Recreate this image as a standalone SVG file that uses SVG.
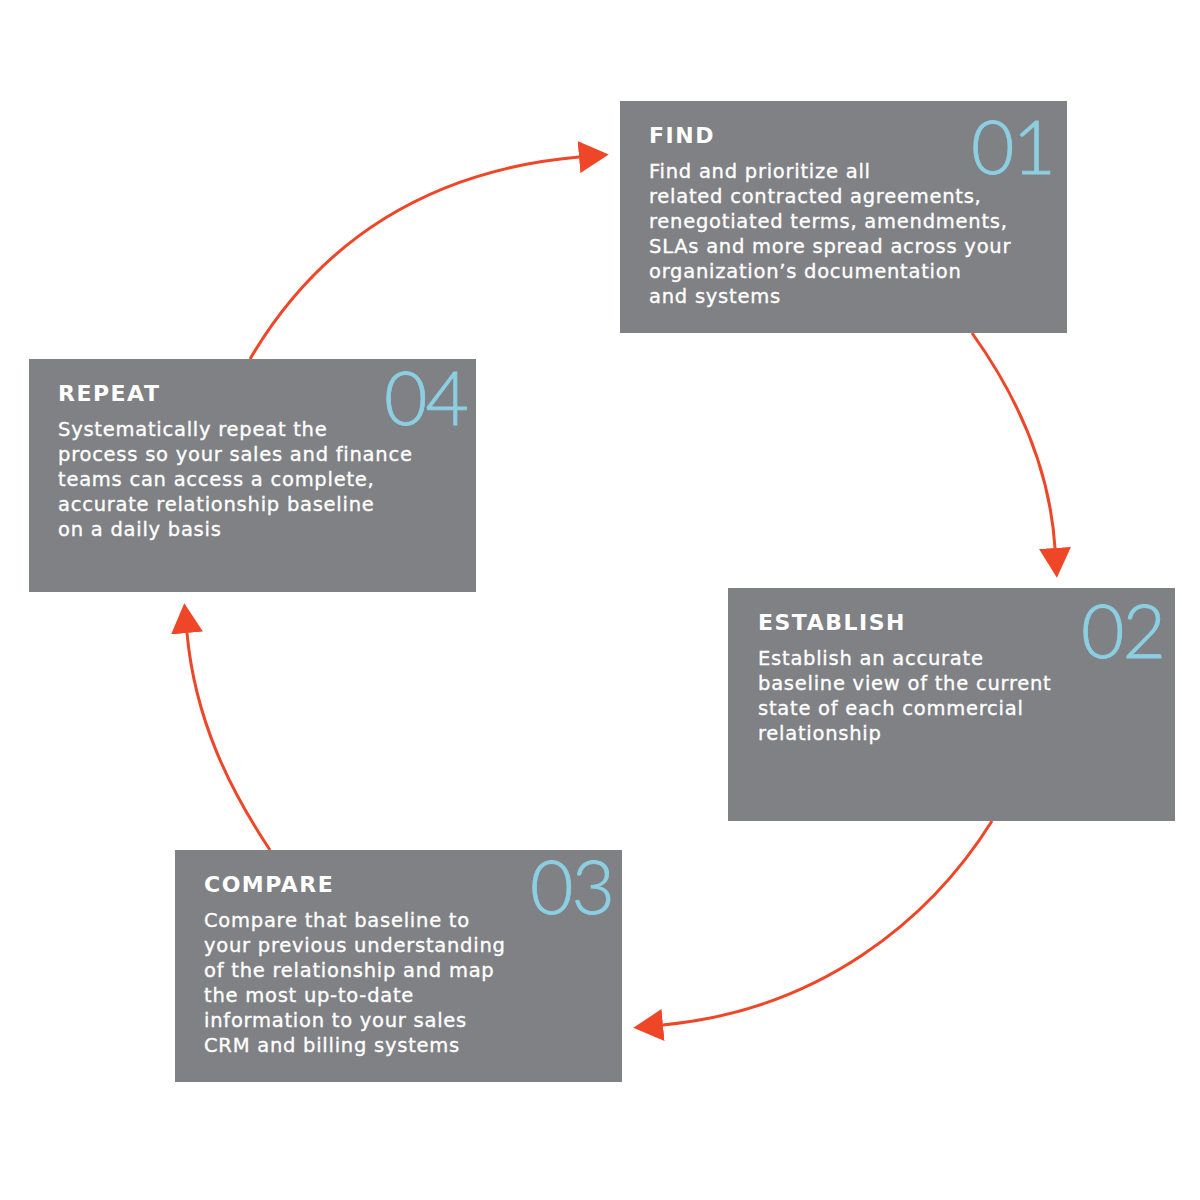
<svg xmlns="http://www.w3.org/2000/svg" width="1200" height="1200" viewBox="0 0 1200 1200">
  <style>
    .box { fill: #808184; }
    .title { font-family: "DejaVu Sans", "Liberation Sans", sans-serif; font-weight: bold; font-size: 22px; letter-spacing: 1.5px; fill: #ffffff; }
    .body { font-family: "DejaVu Sans", "Liberation Sans", sans-serif; font-size: 19.5px; letter-spacing: 0.75px; fill: #ffffff; stroke: #ffffff; stroke-width: 0.35px; }
    .num { font-family: Lato, "Open Sans", "DejaVu Sans", sans-serif; font-weight: 300; font-size: 75px; letter-spacing: -2px; fill: #8ccfe2; stroke: #8ccfe2; stroke-width: 0.8px; text-anchor: end; }
    .conn { fill: none; stroke: #ee4627; stroke-width: 3; }
  </style>
  <defs>
    <marker id="arrow" markerUnits="userSpaceOnUse" markerWidth="30" markerHeight="32" refX="0" refY="15" orient="auto" viewBox="0 0 28 30">
      <path d="M0,0 L28,15 L0,30 Z" fill="#ee4627"/>
    </marker>
  </defs>
  <rect width="1200" height="1200" fill="#ffffff"/>

  <g id="connectors">
    <path class="conn" d="M250,359 C320,240 430,170 579,157" marker-end="url(#arrow)"/>
    <path class="conn" d="M972,333 C1020,400 1050,470 1055,548" marker-end="url(#arrow)"/>
    <path class="conn" d="M992,821 C930,920 820,1010 663,1025" marker-end="url(#arrow)"/>
    <path class="conn" d="M270,850 C230,790 195,720 187,633" marker-end="url(#arrow)"/>
  </g>

  <g id="node-find">
    <rect class="box" x="620" y="101" width="447" height="232"/>
    <text class="num" x="1054" y="174">01</text>
    <text class="title" x="649" y="143">FIND</text>
    <text class="body" x="649" y="178">Find and prioritize all</text>
    <text class="body" x="649" y="203">related contracted agreements,</text>
    <text class="body" x="649" y="228">renegotiated terms, amendments,</text>
    <text class="body" x="649" y="253">SLAs and more spread across your</text>
    <text class="body" x="649" y="278">organization’s documentation</text>
    <text class="body" x="649" y="303">and systems</text>
  </g>

  <g id="node-establish">
    <rect class="box" x="728" y="588" width="447" height="233"/>
    <text class="num" x="1164" y="658">02</text>
    <text class="title" x="758" y="630">ESTABLISH</text>
    <text class="body" x="758" y="665">Establish an accurate</text>
    <text class="body" x="758" y="690">baseline view of the current</text>
    <text class="body" x="758" y="715">state of each commercial</text>
    <text class="body" x="758" y="740">relationship</text>
  </g>

  <g id="node-compare">
    <rect class="box" x="175" y="850" width="447" height="232"/>
    <text class="num" x="613" y="914">03</text>
    <text class="title" x="204" y="892">COMPARE</text>
    <text class="body" x="204" y="927">Compare that baseline to</text>
    <text class="body" x="204" y="952">your previous understanding</text>
    <text class="body" x="204" y="977">of the relationship and map</text>
    <text class="body" x="204" y="1002">the most up-to-date</text>
    <text class="body" x="204" y="1027">information to your sales</text>
    <text class="body" x="204" y="1052">CRM and billing systems</text>
  </g>

  <g id="node-repeat">
    <rect class="box" x="29" y="359" width="447" height="233"/>
    <text class="num" x="467" y="425">04</text>
    <text class="title" x="58" y="401">REPEAT</text>
    <text class="body" x="58" y="436">Systematically repeat the</text>
    <text class="body" x="58" y="461">process so your sales and finance</text>
    <text class="body" x="58" y="486">teams can access a complete,</text>
    <text class="body" x="58" y="511">accurate relationship baseline</text>
    <text class="body" x="58" y="536">on a daily basis</text>
  </g>
</svg>
